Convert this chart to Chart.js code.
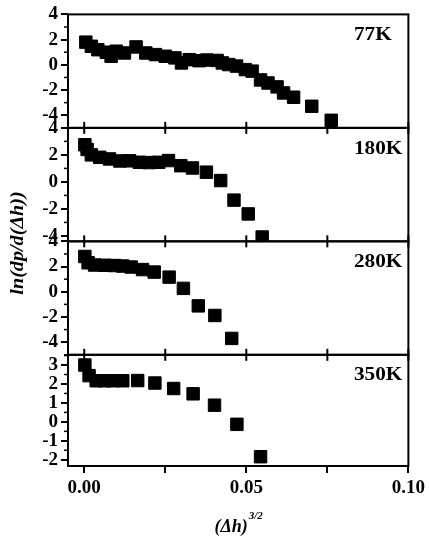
<!DOCTYPE html>
<html>
<head>
<meta charset="utf-8">
<script src="https://cdn.jsdelivr.net/npm/chart.js@4.4.0/dist/chart.umd.min.js"></script>
<style>
  html, body { margin: 0; padding: 0; background: #fff; }
</style>
</head>
<body>
<canvas id="chart" width="429" height="541"></canvas>
<script>
// values
const panelLabels = ['77K', '180K', '280K', '350K'];

const x77 = [0.0005, 0.0022, 0.0042, 0.0068, 0.0083, 0.0099, 0.0124, 0.016, 0.019, 0.022, 0.025, 0.028, 0.030, 0.0324, 0.0354, 0.0378, 0.041, 0.0426, 0.0446, 0.047, 0.0497, 0.0518, 0.0544, 0.0567, 0.0595, 0.0615, 0.0646, 0.0702, 0.0762];
const y77 = [1.8, 1.47, 1.2, 1.0, 0.68, 1.08, 0.94, 1.42, 0.94, 0.81, 0.68, 0.55, 0.15, 0.41, 0.33, 0.38, 0.35, 0.15, 0.02, -0.1, -0.38, -0.5, -1.2, -1.44, -1.75, -2.23, -2.57, -3.29, -4.4];

const x180 = [0.0002, 0.0009, 0.0022, 0.0048, 0.0078, 0.011, 0.014, 0.017, 0.020, 0.023, 0.026, 0.0298, 0.0334, 0.0377, 0.0421, 0.0462, 0.0506, 0.0549];
const y180 = [2.75, 2.4, 2.0, 1.82, 1.7, 1.55, 1.56, 1.45, 1.43, 1.45, 1.58, 1.2, 1.03, 0.72, 0.1, -1.35, -2.37, -4.08];

const x280 = [0.0002, 0.0012, 0.0032, 0.0063, 0.0094, 0.0119, 0.0145, 0.018, 0.0216, 0.0262, 0.0306, 0.0352, 0.0403, 0.0455];
const y280 = [2.8, 2.3, 2.12, 2.1, 2.08, 2.04, 1.96, 1.76, 1.56, 1.16, 0.27, -1.12, -1.88, -3.7];

const x350 = [0.0002, 0.0015, 0.0037, 0.0063, 0.0088, 0.0119, 0.0165, 0.0218, 0.0276, 0.0336, 0.0402, 0.0471, 0.0544];
const y350 = [3.0, 2.44, 2.17, 2.17, 2.17, 2.17, 2.18, 2.05, 1.76, 1.48, 0.88, -0.13, -1.84];

const xTicks = [0, 0.025, 0.05, 0.075, 0.1];
const xTickLabels = ['0.00', '', '0.05', '', '0.10'];

const yTicksWide = [-4, -2, 0, 2, 4];
const yTicks350 = [-2, -1, 0, 1, 2, 3];

const xs = [x77, x180, x280, x350];
const ys = [y77, y180, y280, y350];
const yTicks = [yTicksWide, yTicksWide, yTicksWide, yTicks350];
const yRanges = [[-5, 4], [-4.4, 4], [-5, 4], [-2.33, 3.54]];
const axisIds = ['y1', 'y2', 'y3', 'y4'];

const serif = '"Liberation Serif", "Times New Roman", serif';
Chart.defaults.font.family = serif;
Chart.defaults.color = '#000';

function toPoints(xv, yv) {
    return xv.map((x, i) => ({ x: x, y: yv[i] }));
}

// text drawn a bit wider than the font, like the scanned figure
function wideText(ctx, text, x, y, stretch) {
    ctx.save();
    ctx.translate(x, y);
    ctx.scale(stretch, 1);
    ctx.fillText(text, 0, 0);
    ctx.restore();
}

const datasets = panelLabels.map((lab, i) => ({
    label: lab,
    data: toPoints(xs[i], ys[i]),
    yAxisID: axisIds[i],
    pointStyle: 'rect',
    pointRadius: 8.8,
    backgroundColor: '#000',
    borderColor: '#000',
    borderWidth: 1,
    showLine: false
}));

const scales = {
    x: {
        type: 'linear',
        position: 'bottom',
        min: -0.005,
        max: 0.1,
        afterBuildTicks: s => { s.ticks = xTicks.map(v => ({ value: v })); },
        afterFit: s => { s.height = 75; },
        grid: { drawOnChartArea: false, tickLength: 7, color: '#000', lineWidth: 2 },
        border: { display: false },
        ticks: {
            autoSkip: false,
            maxRotation: 0,
            padding: 4,
            font: { size: 19, weight: 'bold' },
            callback: (v, i) => xTickLabels[i]
        }
    }
};

axisIds.forEach((id, i) => {
    scales[id] = {
        type: 'linear',
        position: 'left',
        stack: 'panels',
        stackWeight: i === 3 ? 0.98 : 1,
        weight: 4 - i,
        min: yRanges[i][0],
        max: yRanges[i][1],
        afterBuildTicks: s => { s.ticks = yTicks[i].map(v => ({ value: v })); },
        afterFit: s => { s.width = 68; },
        grid: { drawOnChartArea: false, tickLength: 7, color: '#000', lineWidth: 2 },
        border: { display: false },
        ticks: {
            autoSkip: false,
            padding: 3,
            font: { size: 19, weight: 'bold' },
            callback: v => String(v)
        }
    };
});

const decorations = {
    id: 'decorations',
    afterDraw(chart) {
        const ctx = chart.ctx;
        const area = chart.chartArea;
        const xs = chart.scales.x;
        ctx.save();
        ctx.strokeStyle = '#000';
        ctx.fillStyle = '#000';
        ctx.lineWidth = 2;

        axisIds.forEach((id, i) => {
            const s = chart.scales[id];
            // panel frame
            ctx.strokeRect(area.left, s.top, area.right - area.left, s.bottom - s.top);

            // minor ticks on the y axis
            const t = yTicks[i];
            const step = t[1] - t[0];
            const minors = [];
            for (let k = 0; k < t.length - 1; k++) minors.push((t[k] + t[k + 1]) / 2);
            minors.push(t[0] - step / 2, t[t.length - 1] + step / 2);
            ctx.lineWidth = 1.5;
            minors.forEach(v => {
                if (v < s.min || v > s.max) return;
                const py = s.getPixelForValue(v);
                ctx.beginPath();
                ctx.moveTo(area.left - 4, py);
                ctx.lineTo(area.left, py);
                ctx.stroke();
            });
            ctx.lineWidth = 2;

            // x ticks on boundaries between panels
            if (i < axisIds.length - 1) {
                xTicks.forEach(v => {
                    const px = xs.getPixelForValue(v);
                    ctx.beginPath();
                    ctx.moveTo(px, s.bottom - 6);
                    ctx.lineTo(px, s.bottom + 6);
                    ctx.stroke();
                });
            }

            // temperature label
            ctx.font = 'bold 18px ' + serif;
            ctx.textAlign = 'left';
            ctx.textBaseline = 'middle';
            wideText(ctx, panelLabels[i], 354, s.top + 21, 1.18);
        });

        // y title
        ctx.save();
        ctx.translate(18, 243);
        ctx.rotate(-Math.PI / 2);
        ctx.font = 'italic bold 18px ' + serif;
        ctx.textAlign = 'center';
        ctx.textBaseline = 'middle';
        wideText(ctx, 'ln(dp/d(Δh))', 0, 0, 1.12);
        ctx.restore();

        // x title with superscript
        const main = '(Δh)';
        const sup = '3/2';
        ctx.font = 'italic bold 18px ' + serif;
        const w1 = ctx.measureText(main).width;
        ctx.font = 'italic bold 11px ' + serif;
        const w2 = ctx.measureText(sup).width;
        const cx = (area.left + area.right) / 2;
        const x0 = cx - (w1 + w2) / 2;
        ctx.textAlign = 'left';
        ctx.textBaseline = 'alphabetic';
        ctx.font = 'italic bold 18px ' + serif;
        ctx.fillText(main, x0, 532);
        ctx.font = 'italic bold 11px ' + serif;
        ctx.fillText(sup, x0 + w1 + 1, 519);
        ctx.restore();
    }
};

new Chart(document.getElementById('chart'), {
    type: 'scatter',
    data: { datasets: datasets },
    options: {
        responsive: false,
        animation: false,
        devicePixelRatio: 1,
        layout: { padding: { top: 11, right: 18, bottom: 0, left: 0 } },
        plugins: { legend: { display: false }, tooltip: { enabled: false } },
        scales: scales
    },
    plugins: [decorations]
});
</script>
</body>
</html>
